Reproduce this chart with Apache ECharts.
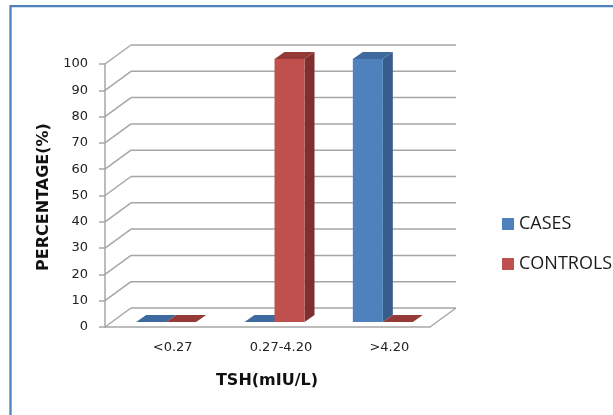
<!DOCTYPE html>
<html>
<head>
<meta charset="utf-8">
<script src="https://cdn.jsdelivr.net/npm/echarts@6/dist/echarts.min.js"></script>
<style>
  html, body { margin: 0; padding: 0; background: #fff; }
  #chart { width: 613px; height: 415px; }
</style>
</head>
<body>
<div id="chart"></div>
<script>
// data
const categories = ['<0.27', '0.27-4.20', '>4.20'];
const cases = [0, 0, 100];
const controls = [0, 100, 0];
const yTicks = [0, 10, 20, 30, 40, 50, 60, 70, 80, 90, 100];

// fake 3d depth (pixels)
const WALL_DX = 26, WALL_DY = -19;
const BAR_OX = 7, BAR_OY = -5;
const BAR_W = 30, BAR_DX = 10, BAR_DY = -7;

const gridColor = '#a6a6a6';

function barRenderer (side, front, dark, top) {
  return function (params, api) {
    const i = api.value(0);
    const c = api.coord([i, api.value(1)]);
    const b = api.coord([i, 0]);
    const x0 = side === 'left' ? c[0] + BAR_OX - BAR_W : c[0] + BAR_OX;
    const x1 = x0 + BAR_W;
    const yTop = c[1] + BAR_OY;
    const yBot = b[1] + BAR_OY;
    return {
      type: 'group',
      children: [
        {
          type: 'polygon',
          shape: { points: [[x1, yTop], [x1 + BAR_DX, yTop + BAR_DY], [x1 + BAR_DX, yBot + BAR_DY], [x1, yBot]] },
          style: { fill: dark }
        },
        {
          type: 'rect',
          shape: { x: x0, y: yTop, width: BAR_W, height: yBot - yTop },
          style: { fill: front }
        },
        {
          type: 'polygon',
          shape: { points: [[x0, yTop], [x0 + BAR_DX, yTop + BAR_DY], [x1 + BAR_DX, yTop + BAR_DY], [x1, yTop]] },
          style: { fill: top }
        }
      ]
    };
  };
}

const chart = echarts.init(document.getElementById('chart'));
chart.setOption({
  animation: false,
  backgroundColor: '#fff',
  grid: { left: 105, top: 64, width: 325, height: 263 },
  legend: {
    data: ['CASES', 'CONTROLS'],
    orient: 'vertical',
    left: 497,
    top: 210,
    itemWidth: 12,
    itemHeight: 12,
    itemGap: 22,
    icon: 'rect',
    textStyle: { fontFamily: 'Open Sans', fontSize: 18, color: '#1a1a1a' }
  },
  xAxis: {
    type: 'category',
    data: categories,
    axisLine: { show: true, lineStyle: { color: gridColor, width: 1.5 } },
    axisTick: { show: false },
    axisLabel: {
      fontFamily: 'DejaVu Sans', fontSize: 13, color: '#222',
      margin: 14, padding: [0, 0, 0, 27]
    },
    splitLine: { show: false }
  },
  yAxis: {
    type: 'value',
    min: 0,
    max: 100,
    interval: 10,
    axisLine: { show: true, lineStyle: { color: gridColor, width: 1.5 } },
    axisTick: { show: true, length: 6, lineStyle: { color: gridColor, width: 1.5 } },
    axisLabel: { fontFamily: 'DejaVu Sans', fontSize: 13, color: '#222', margin: 17 },
    splitLine: { show: false }
  },
  graphic: [
    {
      type: 'rect',
      shape: { x: 10.5, y: 6.2, width: 700, height: 500 },
      style: { fill: 'none', stroke: '#4f81bd', lineWidth: 2.3 },
      silent: true
    },
    {
      type: 'text',
      x: 44, y: 197, rotation: Math.PI / 2,
      style: {
        text: 'PERCENTAGE(%)', fill: '#111',
        font: 'bold 16px "DejaVu Sans"',
        textAlign: 'center', textVerticalAlign: 'middle'
      }
    },
    {
      type: 'text',
      x: 267, y: 381,
      style: {
        text: 'TSH(mIU/L)', fill: '#111',
        font: 'bold 16px "DejaVu Sans"',
        textAlign: 'center', textVerticalAlign: 'middle'
      }
    }
  ],
  series: [
    {
      // back wall, left wall and floor lines
      type: 'custom',
      name: 'walls',
      silent: true,
      z: 1,
      data: yTicks.map(v => [0, v]),
      renderItem: function (params, api) {
        const v = api.value(1);
        const band = api.size([1, 0])[0];
        const p = api.coord([0, v]);
        const xl = p[0] - band / 2;
        const xr = api.coord([categories.length - 1, v])[0] + band / 2;
        const children = [
          { type: 'line', shape: { x1: xl, y1: p[1], x2: xl + WALL_DX, y2: p[1] + WALL_DY } },
          { type: 'line', shape: { x1: xl + WALL_DX, y1: p[1] + WALL_DY, x2: xr + WALL_DX, y2: p[1] + WALL_DY } }
        ];
        if (v === 0) {
          children.push({ type: 'line', shape: { x1: xr, y1: p[1], x2: xr + WALL_DX, y2: p[1] + WALL_DY } });
        }
        children.forEach(ch => { ch.style = { stroke: gridColor, lineWidth: 1.5 }; });
        return { type: 'group', children: children };
      }
    },
    {
      type: 'custom',
      name: 'CASES',
      z: 3,
      itemStyle: { color: '#4f81bd' },
      data: cases.map((v, i) => [i, v]),
      renderItem: barRenderer('left', '#4f81bd', '#385d8a', '#3f6aa0')
    },
    {
      type: 'custom',
      name: 'CONTROLS',
      z: 3,
      itemStyle: { color: '#c0504d' },
      data: controls.map((v, i) => [i, v]),
      renderItem: barRenderer('right', '#c0504d', '#7f2f2d', '#943a37')
    }
  ]
});
window.addEventListener('resize', () => chart.resize());
</script>
</body>
</html>
